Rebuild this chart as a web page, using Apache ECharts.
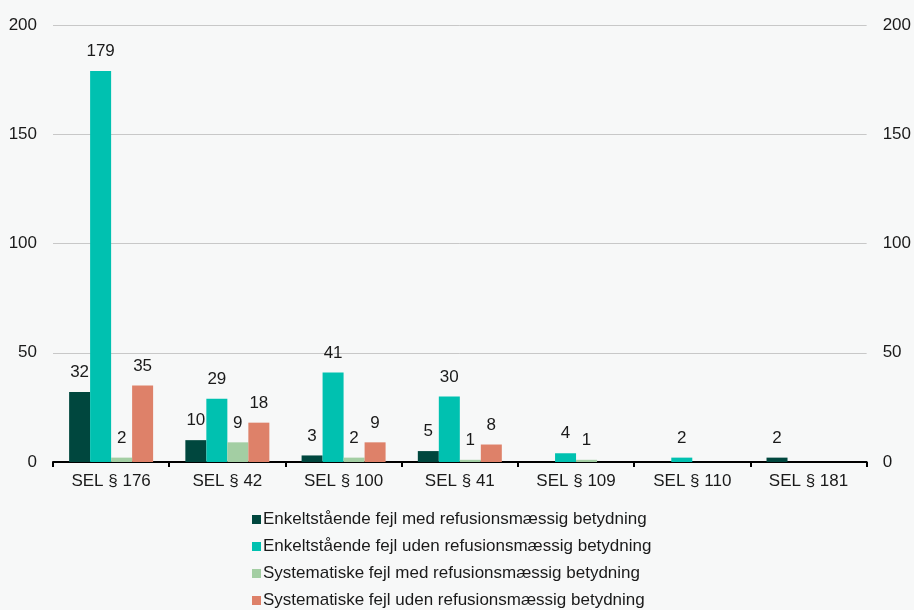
<!DOCTYPE html>
<html>
<head>
<meta charset="utf-8">
<script src="https://cdn.jsdelivr.net/npm/echarts@6/dist/echarts.min.js"></script>
<style>
  html, body { margin: 0; padding: 0; background: #f7f8f8; }
  #chart { width: 914px; height: 610px; }
</style>
</head>
<body>
<div id="chart"></div>
<script>
const categories = ["SEL § 176", "SEL § 42", "SEL § 100", "SEL § 41", "SEL § 109", "SEL § 110", "SEL § 181"];
const enkeltMed = [32, 10, 3, 5, null, null, 2];
const enkeltUden = [179, 29, 41, 30, 4, 2, null];
const systemMed = [2, 9, 2, 1, 1, null, null];
const systemUden = [35, 18, 9, 8, null, null, null];
const seriesNames = [
  "Enkeltstående fejl med refusionsmæssig betydning",
  "Enkeltstående fejl uden refusionsmæssig betydning",
  "Systematiske fejl med refusionsmæssig betydning",
  "Systematiske fejl uden refusionsmæssig betydning"
];
const colors = ["#00473e", "#00c1b0", "#a3cea3", "#de8169"];

const font = "Arial, 'Liberation Sans', sans-serif";
const chart = echarts.init(document.getElementById("chart"));

function makeSeries(name, data, color) {
  return {
    name: name,
    type: "bar",
    data: data,
    barWidth: 21,
    barGap: "0%",
    itemStyle: { color: color },
    label: {
      show: true,
      position: "top",
      distance: 11,
      color: "#1a1a1a",
      fontSize: 17,
      fontFamily: font
    }
  };
}

chart.setOption({
  backgroundColor: "#f7f8f8",
  animation: false,
  color: colors,
  grid: { left: 53, right: 46, top: 25, bottom: 148 },
  legend: {
    orient: "vertical",
    left: 252,
    top: 511,
    height: 120,
    padding: 0,
    itemWidth: 9,
    itemHeight: 9,
    itemGap: 10,
    icon: "rect",
    textStyle: { fontSize: 17, lineHeight: 17, fontFamily: font, color: "#1a1a1a", padding: [0, 0, 0, -3] },
    data: seriesNames
  },
  xAxis: {
    type: "category",
    data: categories,
    axisLine: { lineStyle: { color: "#000", width: 2 } },
    axisTick: { show: true, length: 5, lineStyle: { color: "#000", width: 2 } },
    axisLabel: { fontSize: 17, fontFamily: font, color: "#1a1a1a", margin: 11 }
  },
  yAxis: [
    {
      type: "value",
      min: 0, max: 200, interval: 50,
      axisLine: { show: false },
      axisTick: { show: false },
      axisLabel: { fontSize: 17, fontFamily: font, color: "#1a1a1a", margin: 16 },
      splitLine: { lineStyle: { color: "#c8c8c8", width: 1 } }
    },
    {
      type: "value",
      position: "right",
      min: 0, max: 200, interval: 50,
      axisLine: { show: false },
      axisTick: { show: false },
      axisLabel: { fontSize: 17, fontFamily: font, color: "#1a1a1a", margin: 16 },
      splitLine: { show: false }
    }
  ],
  series: [
    makeSeries(seriesNames[0], enkeltMed, colors[0]),
    makeSeries(seriesNames[1], enkeltUden, colors[1]),
    makeSeries(seriesNames[2], systemMed, colors[2]),
    makeSeries(seriesNames[3], systemUden, colors[3])
  ]
});
</script>
</body>
</html>
